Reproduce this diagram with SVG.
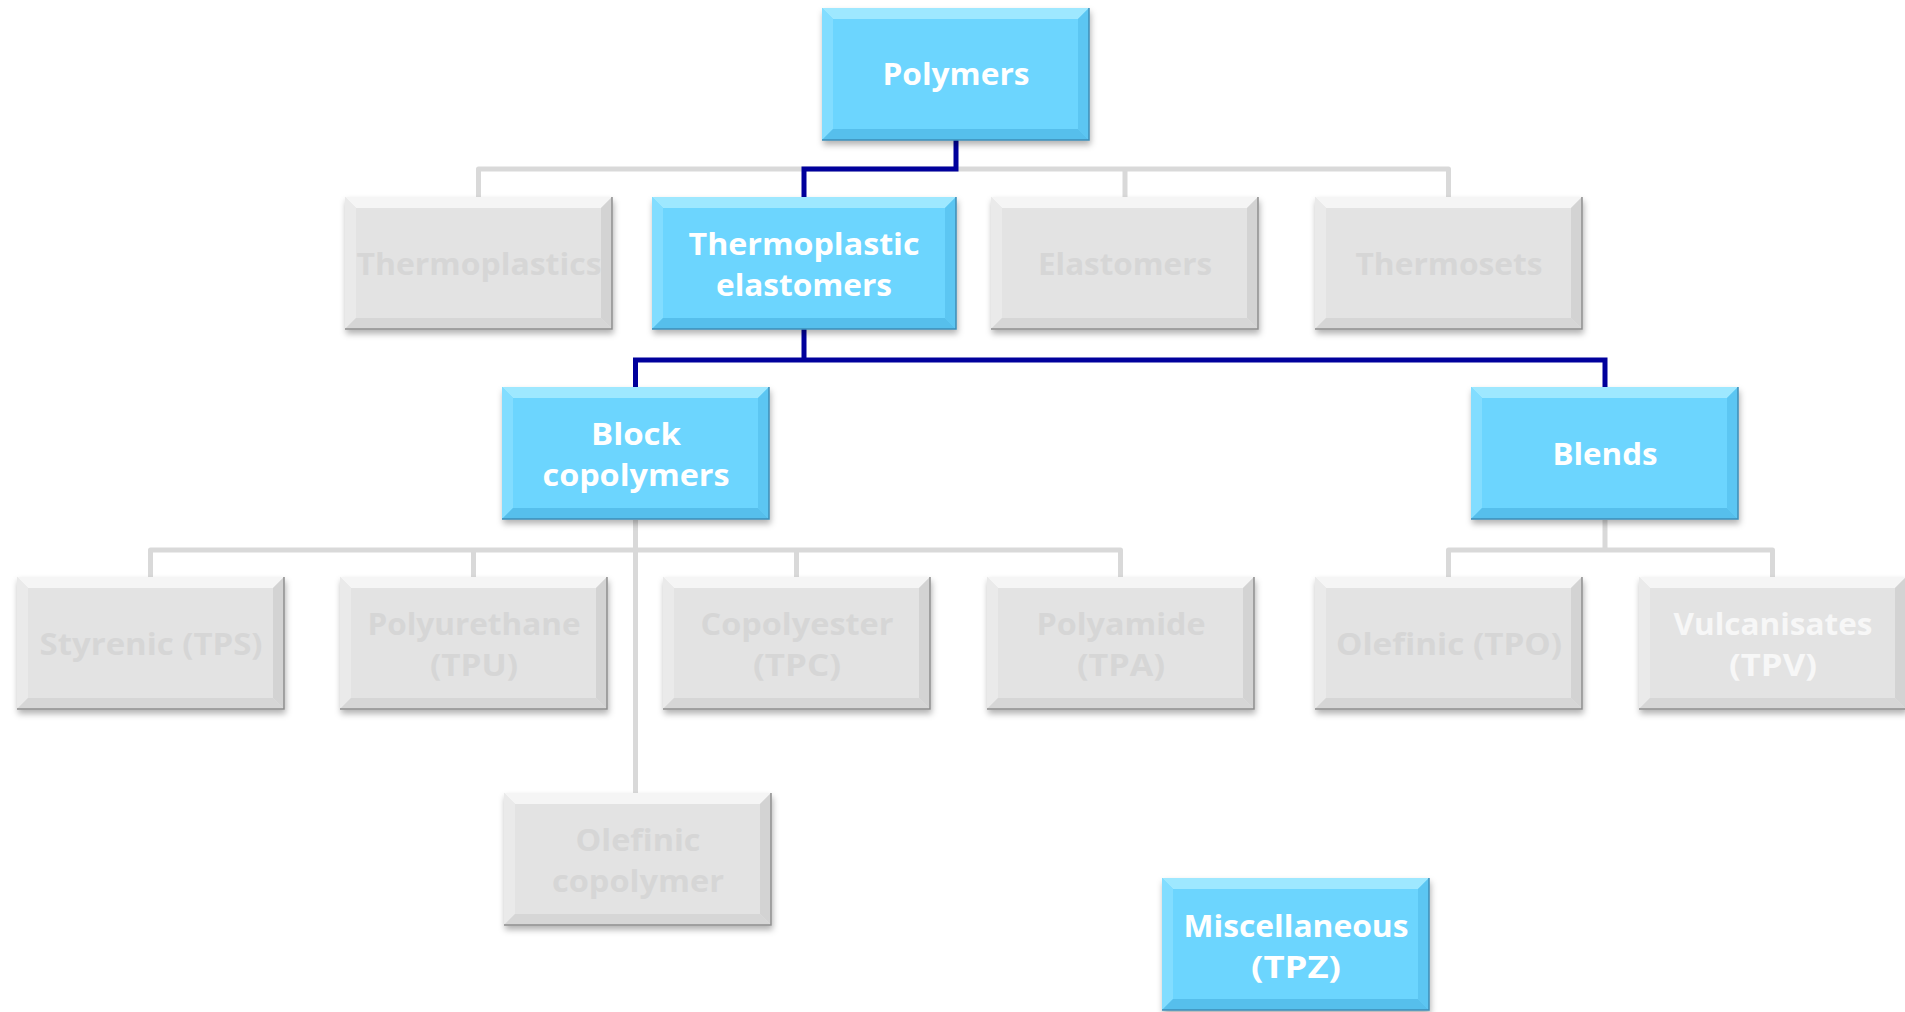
<svg xmlns="http://www.w3.org/2000/svg" xmlns:xlink="http://www.w3.org/1999/xlink" width="1905" height="1012" viewBox="0 0 1905 1012">
<style>
.gl{fill:none;stroke:#D9D9D9;stroke-width:5;stroke-linejoin:round}
.bl{fill:none;stroke:#00009C;stroke-width:5;stroke-linejoin:miter}
.t{font-family:"Open Sans","Noto Sans","Liberation Sans",sans-serif;font-weight:bold;font-size:30px;text-anchor:middle}
.tw{fill:#FFFFFF}
.tg{fill:#D6D6D6}
.tv{fill:#F7F7F7}
</style>
<defs>
<filter id="sh" x="-10%" y="-10%" width="125%" height="135%">
<feDropShadow dx="1" dy="4" stdDeviation="3" flood-color="#000" flood-opacity="0.3"/>
</filter>
<g id="grey">
<rect x="0" y="0" width="267" height="132" fill="#E3E3E3"/>
<polygon points="0,0 267,0 256,11 11,11" fill="#F5F5F5"/>
<polygon points="0,0 11,11 11,121 0,132" fill="#EAEAEA"/>
<polygon points="267,0 256,11 256,121 267,132" fill="#D3D3D3"/>
<polygon points="0,132 267,132 256,121 11,121" fill="#D6D6D6"/>
<path d="M267,0 V132 H0" fill="none" stroke="#8E8E8E" stroke-width="1.5"/>
</g>
<g id="blue">
<rect x="0" y="0" width="267" height="132" fill="#6CD5FE"/>
<polygon points="0,0 267,0 256,11 11,11" fill="#9EE8FF"/>
<polygon points="0,0 11,11 11,121 0,132" fill="#82DDFF"/>
<polygon points="267,0 256,11 256,121 267,132" fill="#5CC6F2"/>
<polygon points="0,132 267,132 256,121 11,121" fill="#56BFEC"/>
<path d="M267,0 V132 H0" fill="none" stroke="#3C8DB6" stroke-width="1.5"/>
</g>
<g id="blueW">
<rect x="0" y="0" width="304" height="132" fill="#6CD5FE"/>
<polygon points="0,0 304,0 293,11 11,11" fill="#9EE8FF"/>
<polygon points="0,0 11,11 11,121 0,132" fill="#82DDFF"/>
<polygon points="304,0 293,11 293,121 304,132" fill="#5CC6F2"/>
<polygon points="0,132 304,132 293,121 11,121" fill="#56BFEC"/>
<path d="M304,0 V132 H0" fill="none" stroke="#3C8DB6" stroke-width="1.5"/>
</g>
</defs>
<rect width="1905" height="1012" fill="#FFFFFF"/>

<g id="connectors">
<path class="gl" d="M478.5,197 V169 H1448.5 V197 M1125,169 V197"/>
<path class="bl" d="M956,140 V169 H804 V197"/>
<path class="bl" d="M804,329 V360 M635.5,387 V360 H1605 V387"/>
<path class="gl" d="M635.5,520 V793 M150.5,577 V550 H1120.5 V577 M473.5,550 V577 M796.5,550 V577"/>
<path class="gl" d="M1605,520 V550 M1448.5,577 V550 H1772.5 V577"/>
</g>

<g id="polymers" transform="translate(822,8)">
<use href="#blue" filter="url(#sh)"/>
<text class="t tw" x="134" y="77" textLength="147" lengthAdjust="spacingAndGlyphs">Polymers</text>
</g>
<g id="thermoplastics" transform="translate(345,197)">
<use href="#grey" filter="url(#sh)"/>
<text class="t tg" x="134" y="78" textLength="245" lengthAdjust="spacingAndGlyphs">Thermoplastics</text>
</g>
<g id="tpe" transform="translate(652,197)">
<use href="#blueW" filter="url(#sh)"/>
<text class="t tw" x="152" y="58" textLength="231" lengthAdjust="spacingAndGlyphs">Thermoplastic</text>
<text class="t tw" x="152" y="99" textLength="176" lengthAdjust="spacingAndGlyphs">elastomers</text>
</g>
<g id="elastomers" transform="translate(991,197)">
<use href="#grey" filter="url(#sh)"/>
<text class="t tg" x="134" y="78" textLength="174" lengthAdjust="spacingAndGlyphs">Elastomers</text>
</g>
<g id="thermosets" transform="translate(1315,197)">
<use href="#grey" filter="url(#sh)"/>
<text class="t tg" x="134" y="78" textLength="187" lengthAdjust="spacingAndGlyphs">Thermosets</text>
</g>
<g id="block" transform="translate(502,387)">
<use href="#blue" filter="url(#sh)"/>
<text class="t tw" x="134" y="58" textLength="90" lengthAdjust="spacingAndGlyphs">Block</text>
<text class="t tw" x="134" y="99" textLength="187" lengthAdjust="spacingAndGlyphs">copolymers</text>
</g>
<g id="blends" transform="translate(1471,387)">
<use href="#blue" filter="url(#sh)"/>
<text class="t tw" x="134" y="78" textLength="105" lengthAdjust="spacingAndGlyphs">Blends</text>
</g>
<g id="styrenic" transform="translate(17,577)">
<use href="#grey" filter="url(#sh)"/>
<text class="t tg" x="134" y="78" textLength="223" lengthAdjust="spacingAndGlyphs">Styrenic (TPS)</text>
</g>
<g id="polyurethane" transform="translate(340,577)">
<use href="#grey" filter="url(#sh)"/>
<text class="t tg" x="134" y="58" textLength="213" lengthAdjust="spacingAndGlyphs">Polyurethane</text>
<text class="t tg" x="134" y="99" textLength="88" lengthAdjust="spacingAndGlyphs">(TPU)</text>
</g>
<g id="copolyester" transform="translate(663,577)">
<use href="#grey" filter="url(#sh)"/>
<text class="t tg" x="134" y="58" textLength="193" lengthAdjust="spacingAndGlyphs">Copolyester</text>
<text class="t tg" x="134" y="99" textLength="88" lengthAdjust="spacingAndGlyphs">(TPC)</text>
</g>
<g id="polyamide" transform="translate(987,577)">
<use href="#grey" filter="url(#sh)"/>
<text class="t tg" x="134" y="58" textLength="169" lengthAdjust="spacingAndGlyphs">Polyamide</text>
<text class="t tg" x="134" y="99" textLength="88" lengthAdjust="spacingAndGlyphs">(TPA)</text>
</g>
<g id="olefinic-tpo" transform="translate(1315,577)">
<use href="#grey" filter="url(#sh)"/>
<text class="t tg" x="134" y="78" textLength="226" lengthAdjust="spacingAndGlyphs">Olefinic (TPO)</text>
</g>
<g id="vulcanisates" transform="translate(1639,577)">
<use href="#grey" filter="url(#sh)"/>
<text class="t tv" x="134" y="58" textLength="199" lengthAdjust="spacingAndGlyphs">Vulcanisates</text>
<text class="t tv" x="134" y="99" textLength="88" lengthAdjust="spacingAndGlyphs">(TPV)</text>
</g>
<g id="olefinic-copolymer" transform="translate(504,793)">
<use href="#grey" filter="url(#sh)"/>
<text class="t tg" x="134" y="58" textLength="125" lengthAdjust="spacingAndGlyphs">Olefinic</text>
<text class="t tg" x="134" y="99" textLength="172" lengthAdjust="spacingAndGlyphs">copolymer</text>
</g>
<g id="miscellaneous" transform="translate(1162,878)">
<use href="#blue" filter="url(#sh)"/>
<text class="t tw" x="134" y="59" textLength="225" lengthAdjust="spacingAndGlyphs">Miscellaneous</text>
<text class="t tw" x="134" y="100" textLength="90" lengthAdjust="spacingAndGlyphs">(TPZ)</text>
</g>
</svg>
